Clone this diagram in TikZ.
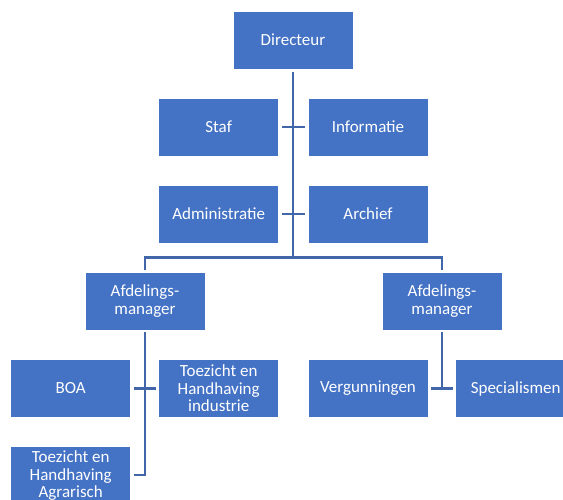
\documentclass[tikz,border=0pt]{standalone}
\usepackage{fontspec}
\setmainfont{Carlito}
\definecolor{boxblue}{HTML}{4472C4}
\definecolor{lineblue}{HTML}{4166AA}
\begin{document}
\begin{tikzpicture}[x=1pt,y=-1pt,
  box/.style={rectangle, fill=boxblue, draw=white, line width=0.8pt,
    minimum width=120pt, minimum height=58pt, inner sep=1pt,
    text=white, align=center, font=\fontsize{17}{17.5}\selectfont},
  conn/.style={draw=lineblue, line width=2.8pt}]
\useasboundingbox (0,0) rectangle (563,500);
\fill[white] (0,0) rectangle (563,500);
\node[box] (dir) at (293,40) {Directeur};
\node[box] (staf) at (218.7,127) {Staf};
\node[box] (info) at (368,127) {Informatie};
\node[box] (adm) at (218.7,214) {Administratie};
\node[box] (arch) at (368,214) {Archief};
\node[box] (am1) at (145,301) {Afdelings-\\manager};
\node[box] (am2) at (442,301) {Afdelings-\\manager};
\node[box] (boa) at (70.7,388.5) {BOA};
\node[box] (ind) at (218.7,388.5) {Toezicht en\\Handhaving\\industrie};
\node[box] (agr) at (70.7,475.7) {Toezicht en\\Handhaving\\Agrarisch};
\node[box] (verg) at (368,388.5) {Vergunningen};
\node[box] (spec) at (515.7,388.5) {Specialismen};
\coordinate (busc) at (293,257.5);
\coordinate (busl) at (145,257.5);
\coordinate (busr) at (442,257.5);
\coordinate (agrc) at (145,475);
\coordinate (specc) at (442,388.5);
% main trunk
\draw[conn, shorten <=3pt] (dir.south) -- (busc);
\draw[conn, line cap=rect] (busl) -- (busr);
\draw[conn, shorten >=1.5pt] (busl) -- (am1.north);
\draw[conn, shorten >=1.5pt] (busr) -- (am2.north);
% assistants
\draw[conn, shorten <=2.7pt, shorten >=2.7pt] (staf.east) -- (info.west);
\draw[conn, shorten <=2.7pt, shorten >=2.7pt] (adm.east) -- (arch.west);
% left department
\draw[conn, shorten <=1.5pt] (am1.south) -- (agrc) -- ([xshift=2.7pt]agr.east |- agrc);
\draw[conn, shorten <=2.7pt, shorten >=2.7pt] (boa.east) -- (ind.west);
% right department
\draw[conn, shorten <=1.5pt] (am2.south) -- (specc);
\draw[conn, shorten <=2.7pt, shorten >=2.7pt] (verg.east) -- (spec.west);
\end{tikzpicture}
\end{document}
